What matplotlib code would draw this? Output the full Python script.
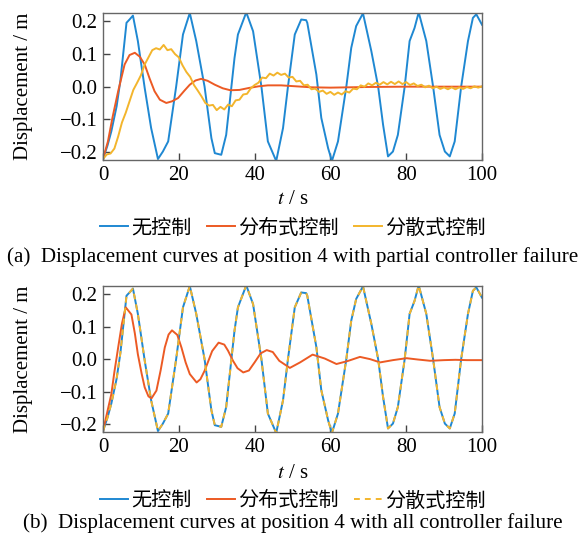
import matplotlib
matplotlib.use("Agg")
import matplotlib.pyplot as plt

# ---- data (t in s, displacement in m) ----
blue_t = [0, 1.2, 2.2, 3.6, 4.6, 6.2, 7.0, 7.9, 9.2, 11.0, 12.7, 14.5, 15.8, 17.2,
          19.3, 21.1, 22.9, 24.6, 26.8, 28.6, 29.5, 31.2, 32.5, 33.6, 34.7, 35.6,
          37.8, 39.6, 41.8, 43.5, 45.7, 47.5, 48.8, 50.6, 52.3, 53.6, 53.9, 56.3,
          57.6, 59.4, 60.4, 62.0, 64.2, 65.5, 66.8, 68.6, 70.8, 72.6, 73.9, 75.2,
          76.5, 77.8, 79.6, 80.9, 82.2, 83.3, 85.3, 87.1, 88.8, 90.2, 91.5, 92.8,
          94.5, 96.3, 97.6, 98.5, 100]
blue_v = [-0.222, -0.18, -0.137, -0.06, 0.02, 0.196, 0.206, 0.218, 0.14, -0.004,
          -0.127, -0.222, -0.199, -0.168, 0.0, 0.16, 0.226, 0.14, 0.0, -0.158,
          -0.204, -0.209, -0.148, -0.03, 0.088, 0.16, 0.228, 0.17, 0.0, -0.168,
          -0.228, -0.127, 0.0, 0.16, 0.206, 0.204, 0.196, 0.037, -0.096, -0.189,
          -0.228, -0.168, 0.0, 0.119, 0.186, 0.225, 0.109, 0.0, -0.117, -0.214,
          -0.199, -0.148, 0.0, 0.14, 0.18, 0.228, 0.14, 0.0, -0.148, -0.199,
          -0.214, -0.168, 0.0, 0.14, 0.211, 0.222, 0.19]

# (a) partial controller failure
red_a_t = [0, 1.3, 2.5, 4.0, 5.7, 7.0, 8.4, 9.7, 11.0, 12.3, 13.6, 15.0, 16.7, 18.2,
           19.8, 21.5, 22.9, 24.4, 25.9, 27.6, 29.5, 31.6, 33.6, 36.0, 38.5, 41.0,
           43.5, 47.0, 51.0, 55.0, 60.0, 65.0, 70.0, 80.0, 90.0, 100.0]
red_a_v = [-0.222, -0.168, -0.095, -0.014, 0.068, 0.097, 0.104, 0.092, 0.068, 0.025,
           -0.014, -0.04, -0.05, -0.045, -0.035, -0.012, 0.006, 0.019, 0.024, 0.018,
           0.006, -0.005, -0.011, -0.01, -0.004, 0.001, 0.004, 0.004, 0.001, -0.002,
           -0.003, -0.002, -0.001, 0.0, 0.0, 0.0]

yel_a_t = list(range(0, 101))
yel_a_v = [-0.222, -0.208, -0.205, -0.19, -0.153, -0.11, -0.08, -0.045, -0.01, 0.012,
           0.035, 0.068, 0.09, 0.112, 0.118, 0.114, 0.128, 0.112, 0.115, 0.1,
           0.09, 0.065, 0.045, 0.03, 0.005, -0.012, -0.03, -0.05, -0.058, -0.056,
           -0.072, -0.062, -0.07, -0.055, -0.06, -0.042, -0.04, -0.024, -0.022, -0.005,
           0.005, 0.012, 0.028, 0.026, 0.04, 0.034, 0.043, 0.036, 0.04, 0.028,
           0.03, 0.016, 0.018, 0.004, 0.006, -0.008, -0.006, -0.016, -0.012, -0.022,
           -0.016, -0.025, -0.018, -0.024, -0.014, -0.018, -0.006, -0.008, 0.004, 0.0,
           0.01, 0.004, 0.012, 0.006, 0.014, 0.007, 0.015, 0.008, 0.016, 0.008,
           0.014, 0.005, 0.01, 0.002, 0.006, -0.002, 0.003, -0.005, 0.0, -0.007,
           -0.002, -0.008, -0.002, -0.008, -0.002, -0.007, -0.001, -0.005, 0.001, -0.003,
           0.001]

# (b) all controllers failed: decentralized control == no control
red_b_t = [0, 1.0, 2.2, 3.0, 4.0, 5.0, 6.0, 7.5, 8.4, 9.2, 10.2, 11.0, 12.0, 12.8,
           14.1, 15.2, 16.3, 17.3, 18.2, 19.6, 20.7, 21.8, 22.9, 24.7, 25.7, 26.8,
           28.8, 30.5, 32.0, 33.0, 34.3, 35.5, 37.0, 38.5, 40.0, 41.6, 43.2, 44.8,
           46.5, 49.3, 52.0, 55.3, 58.5, 61.6, 64.5, 67.8, 70.5, 73.1, 76.5, 80.1,
           83.0, 86.3, 90.0, 93.0, 96.0, 100.0]
red_b_v = [-0.222, -0.17, -0.108, -0.04, 0.036, 0.11, 0.16, 0.138, 0.08, 0.015,
           -0.045, -0.087, -0.115, -0.121, -0.097, -0.035, 0.036, 0.076, 0.089, 0.075,
           0.036, -0.01, -0.046, -0.072, -0.062, -0.036, 0.025, 0.051, 0.045, 0.026,
           -0.005, -0.028, -0.041, -0.035, -0.01, 0.018, 0.028, 0.022, -0.005, -0.027,
           -0.01, 0.014, 0.002, -0.015, -0.006, 0.007, 0.0, -0.01, -0.003, 0.003,
           -0.001, -0.005, -0.003, -0.002, -0.003, -0.003]
yel_b_t = blue_t
yel_b_v = blue_v

labels = ["无控制", "分布式控制", "分散式控制"]
captions = ["(a)  Displacement curves at position 4 with partial controller failure",
            "(b)  Displacement curves at position 4 with all controller failure"]

C_BLUE, C_RED, C_YEL = "#1f88d2", "#ec5a24", "#f3b52c"
SERIF = "Liberation Serif"
CJK = ["Noto Sans CJK SC", "DejaVu Sans"]

plt.rcParams["font.family"] = SERIF
plt.rcParams["axes.unicode_minus"] = True

W, H = 588, 535
fig = plt.figure(figsize=(W / 100, H / 100), dpi=100)


def fx(px):
    return px / W


def fy(py):
    return 1 - py / H


panels = [
    dict(top=13, bot=160, red=(red_a_t, red_a_v), yel=(yel_a_t, yel_a_v), dashed=False,
         xl=200, lg=228, cap=257),
    dict(top=286, bot=432, red=(red_b_t, red_b_v), yel=(yel_b_t, yel_b_v), dashed=True,
         xl=473, lg=501, cap=523),
]

for i, p in enumerate(panels):
    ax = fig.add_axes([fx(103), fy(p["bot"]), fx(482) - fx(103), (p["bot"] - p["top"]) / H])
    h1, = ax.plot(blue_t, blue_v, color=C_BLUE, lw=1.4)
    h2, = ax.plot(*p["red"], color=C_RED, lw=1.4)
    if p["dashed"]:
        h3, = ax.plot(*p["yel"], color=C_YEL, lw=1.4, ls=(0, (3, 2.6)))
    else:
        h3, = ax.plot(*p["yel"], color=C_YEL, lw=1.4)
    ax.set_xlim(0, 100)
    ax.set_ylim(-0.225, 0.226)
    ax.set_xticks([0, 20, 40, 60, 80, 100])
    ax.set_yticks([-0.2, -0.1, 0.0, 0.1, 0.2])
    ax.set_yticklabels(["\u22120.2", "\u22120.1", "0.0", "0.1", "0.2"])
    ax.tick_params(direction="in", length=5, width=1.0, labelsize=15, color="#444444",
                   top=False, right=False, pad=4)
    for s in ax.spines.values():
        s.set_color("#666666")
        s.set_linewidth(1.0)
    fig.text(fx(24), fy((p["top"] + p["bot"]) / 2), "Displacement / m", rotation=90,
             ha="center", va="center", fontsize=15)
    fig.text(fx(293), fy(p["xl"]), "$\\it{t}$ / s", ha="center", va="center", fontsize=15,
             math_fontfamily="stix")
    fig.legend([h1, h2, h3], labels, loc="center", bbox_to_anchor=(fx(293), fy(p["lg"])),
               ncol=3, frameon=False, prop={"family": CJK, "size": 14.5},
               handlelength=1.4, handletextpad=0.15, columnspacing=0.75,
               borderaxespad=0, borderpad=0)
    fig.text(fx(293), fy(p["cap"]), captions[i], ha="center", va="center", fontsize=15.2)

fig.savefig("out.png", dpi=100)
